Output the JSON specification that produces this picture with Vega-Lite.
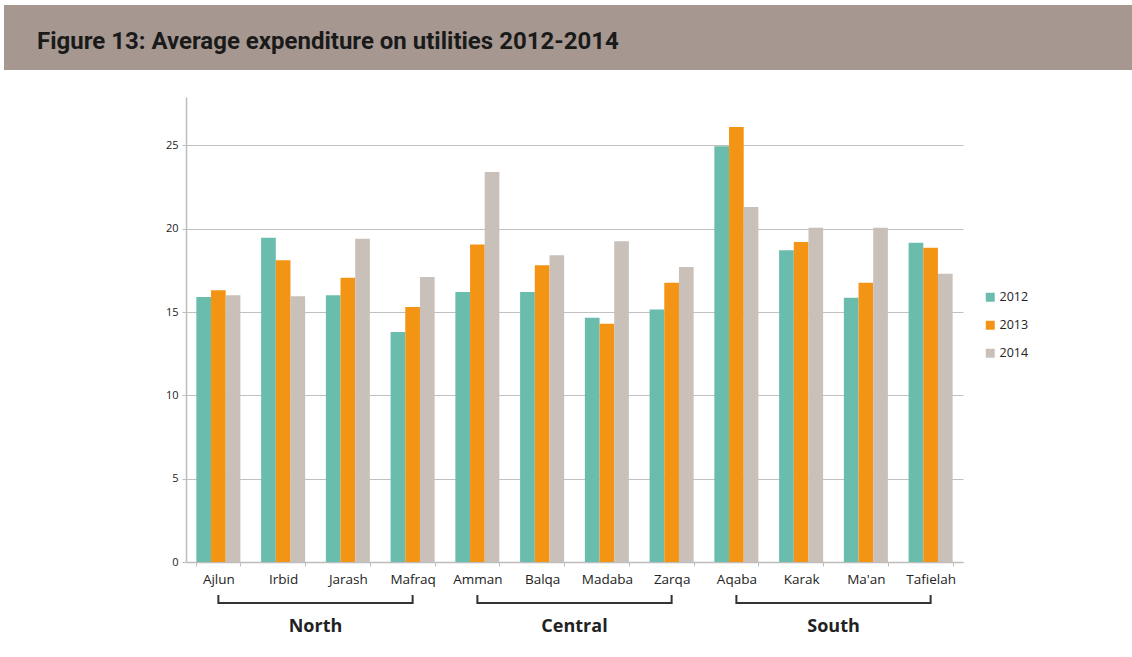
{
  "$schema": "https://vega.github.io/schema/vega-lite/v6.json",
  "background": "white",
  "padding": {"left": 4, "top": 5, "right": 0, "bottom": 30},
  "spacing": 27,
  "config": {"view": {"stroke": null}},
  "datasets": {
    "title": [{"t": "Figure 13: Average expenditure on utilities 2012-2014"}],
    "empty": [],
    "exp": [
      {"district": "Ajlun", "year": "2012", "value": 15.9},
      {"district": "Ajlun", "year": "2013", "value": 16.3},
      {"district": "Ajlun", "year": "2014", "value": 16.0},
      {"district": "Irbid", "year": "2012", "value": 19.45},
      {"district": "Irbid", "year": "2013", "value": 18.1},
      {"district": "Irbid", "year": "2014", "value": 15.95},
      {"district": "Jarash", "year": "2012", "value": 16.0},
      {"district": "Jarash", "year": "2013", "value": 17.05},
      {"district": "Jarash", "year": "2014", "value": 19.4},
      {"district": "Mafraq", "year": "2012", "value": 13.8},
      {"district": "Mafraq", "year": "2013", "value": 15.3},
      {"district": "Mafraq", "year": "2014", "value": 17.1},
      {"district": "Amman", "year": "2012", "value": 16.2},
      {"district": "Amman", "year": "2013", "value": 19.05},
      {"district": "Amman", "year": "2014", "value": 23.4},
      {"district": "Balqa", "year": "2012", "value": 16.2},
      {"district": "Balqa", "year": "2013", "value": 17.8},
      {"district": "Balqa", "year": "2014", "value": 18.4},
      {"district": "Madaba", "year": "2012", "value": 14.65},
      {"district": "Madaba", "year": "2013", "value": 14.3},
      {"district": "Madaba", "year": "2014", "value": 19.25},
      {"district": "Zarqa", "year": "2012", "value": 15.15},
      {"district": "Zarqa", "year": "2013", "value": 16.75},
      {"district": "Zarqa", "year": "2014", "value": 17.7},
      {"district": "Aqaba", "year": "2012", "value": 24.95},
      {"district": "Aqaba", "year": "2013", "value": 26.1},
      {"district": "Aqaba", "year": "2014", "value": 21.3},
      {"district": "Karak", "year": "2012", "value": 18.7},
      {"district": "Karak", "year": "2013", "value": 19.2},
      {"district": "Karak", "year": "2014", "value": 20.05},
      {"district": "Ma'an", "year": "2012", "value": 15.85},
      {"district": "Ma'an", "year": "2013", "value": 16.75},
      {"district": "Ma'an", "year": "2014", "value": 20.05},
      {"district": "Tafielah", "year": "2012", "value": 19.15},
      {"district": "Tafielah", "year": "2013", "value": 18.85},
      {"district": "Tafielah", "year": "2014", "value": 17.3}
    ],
    "regions": [
      {"region": "North", "from": "Ajlun", "to": "Mafraq", "mid": "Jarash"},
      {"region": "Central", "from": "Amman", "to": "Zarqa", "mid": "Madaba"},
      {"region": "South", "from": "Aqaba", "to": "Tafielah", "mid": "Ma'an"}
    ]
  },
  "vconcat": [
    {
      "width": 1128,
      "height": 65,
      "view": {"fill": "#a69891", "stroke": null},
      "data": {"name": "title"},
      "mark": {"type": "text", "align": "left", "baseline": "middle", "font": "Roboto", "fontWeight": "bold", "fontSize": 24, "color": "#1a1a1a"},
      "encoding": {
        "text": {"field": "t"},
        "x": {"value": 33},
        "y": {"value": 37}
      }
    },
    {
      "spacing": 0,
      "hconcat": [
        {
          "width": 150,
          "height": 465,
          "data": {"name": "empty"},
          "mark": {"type": "rule"},
          "encoding": {}
        },
        {
          "width": 777,
          "height": 465,
          "layer": [
            {
              "data": {"name": "exp"},
              "mark": {"type": "bar"},
              "encoding": {
                "x": {
                  "field": "district", "type": "nominal",
                  "scale": {"domain": ["Ajlun","Irbid","Jarash","Mafraq","Amman","Balqa","Madaba","Zarqa","Aqaba","Karak","Ma'an","Tafielah"], "paddingInner": 0.32, "paddingOuter": 0.16},
                  "axis": {"title": null, "labelAngle": 0, "labelFont": "Open Sans", "labelFontSize": 13.5, "labelColor": "#222", "labelPadding": 6, "domainColor": "#bdbdbd", "domainWidth": 1.5, "tickColor": "#bdbdbd", "tickSize": 4, "tickBand": "extent", "grid": false}
                },
                "xOffset": {"field": "year", "type": "nominal", "scale": {"paddingInner": 0, "paddingOuter": 0}},
                "y": {
                  "field": "value", "type": "quantitative",
                  "scale": {"domain": [0, 27.9], "nice": false},
                  "axis": {"title": null, "values": [0, 5, 10, 15, 20, 25], "minExtent": 32, "labelFont": "Open Sans", "labelFontSize": 11, "labelColor": "#222", "labelPadding": 4, "tickSize": 4, "tickColor": "#bdbdbd", "domainColor": "#bdbdbd", "domainWidth": 1.5, "gridColor": "#c0c0c0", "gridWidth": 1}
                },
                "color": {
                  "field": "year", "type": "nominal",
                  "scale": {"domain": ["2012", "2013", "2014"], "range": ["#6abcad", "#f39415", "#c9c1b9"]},
                  "legend": {"title": null, "orient": "none", "legendX": 980, "legendY": 286, "symbolType": "square", "symbolSize": 80, "symbolStrokeWidth": 0, "labelFont": "Open Sans", "labelFontSize": 12.5, "labelColor": "#222", "rowPadding": 15, "labelOffset": 3}
                }
              }
            },
            {
              "data": {"name": "regions"},
              "mark": {"type": "rule", "color": "#333", "strokeWidth": 2},
              "encoding": {
                "x": {"field": "from", "type": "nominal"},
                "x2": {"field": "to"},
                "y": {"value": 506}
              }
            },
            {
              "data": {"name": "regions"},
              "mark": {"type": "rule", "color": "#333", "strokeWidth": 2},
              "encoding": {
                "x": {"field": "from", "type": "nominal"},
                "y": {"value": 498},
                "y2": {"value": 507}
              }
            },
            {
              "data": {"name": "regions"},
              "mark": {"type": "rule", "color": "#333", "strokeWidth": 2},
              "encoding": {
                "x": {"field": "to", "type": "nominal"},
                "y": {"value": 498},
                "y2": {"value": 507}
              }
            },
            {
              "data": {"name": "regions"},
              "mark": {"type": "text", "font": "Open Sans", "fontWeight": "bold", "fontSize": 18, "color": "#222", "baseline": "alphabetic"},
              "encoding": {
                "x": {"field": "mid", "type": "nominal", "bandPosition": -0.235},
                "y": {"value": 535},
                "text": {"field": "region"}
              }
            }
          ]
        }
      ]
    }
  ]
}
